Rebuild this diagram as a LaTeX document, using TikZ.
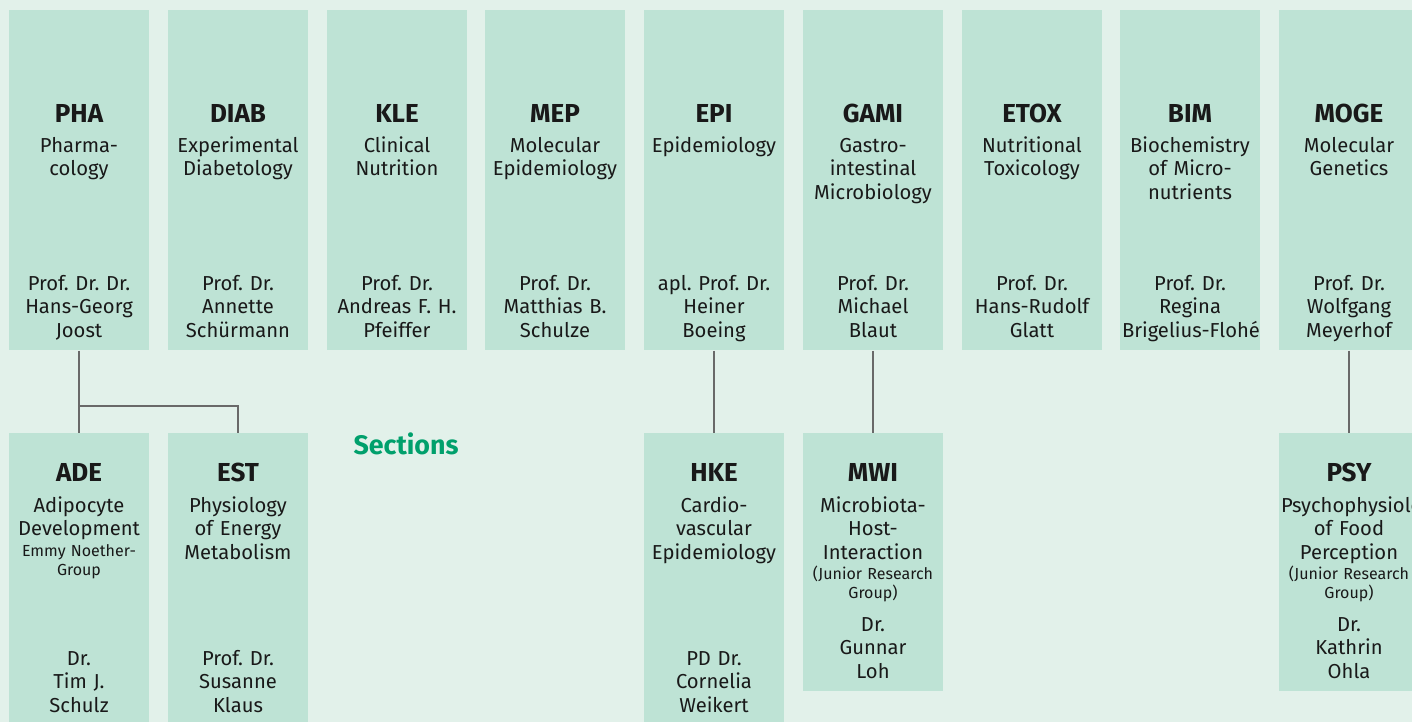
\documentclass[tikz,border=0pt]{standalone}
\usepackage{fontspec}
\setmainfont{Fira Sans}
\usepackage{tikz}
\definecolor{bggreen}{RGB}{226,241,234}
\definecolor{boxgreen}{RGB}{190,227,213}
\definecolor{secgreen}{RGB}{0,160,108}
\definecolor{linkgray}{RGB}{105,105,105}
\definecolor{txt}{RGB}{25,25,25}
\frenchspacing

\begin{document}
\begin{tikzpicture}[x=0.5pt,y=-0.5pt,
  unitbox/.style={rectangle,fill=boxgreen,inner sep=0pt,minimum width=70pt,anchor=north},
  abbrtext/.style={anchor=base,inner sep=0pt,text=txt,font=\bfseries\fontsize{13}{15}\selectfont},
  titletext/.style={anchor=base,inner sep=0pt,text=txt,text width=68pt,align=center,
    font=\fontsize{10.1}{11.75}\selectfont},
  smalltext/.style={titletext,font=\fontsize{8}{9.5}\selectfont},
  linkline/.style={draw=linkgray,line width=0.75pt}]
\useasboundingbox (0,0) rectangle (1412,722);
\fill[bggreen] (0,0) rectangle (1412,722);

\node[unitbox,minimum height=170pt] (pha) at (79,10) {};
\node[abbrtext] (pha-abbr) at (79,122) {PHA};
\node[titletext] (pha-title) at (79,152) {Pharma-\\cology};
\node[titletext] (pha-head) at (79,290) {Prof. Dr. Dr.\\Hans-Georg\\Joost};

\node[unitbox,minimum height=170pt] (diab) at (238,10) {};
\node[abbrtext] (diab-abbr) at (238,122) {DIAB};
\node[titletext] (diab-title) at (238,152) {Experimental\\Diabetology};
\node[titletext] (diab-head) at (238,290) {Prof. Dr.\\Annette\\Schürmann};

\node[unitbox,minimum height=170pt] (kle) at (397,10) {};
\node[abbrtext] (kle-abbr) at (397,122) {KLE};
\node[titletext] (kle-title) at (397,152) {Clinical\\Nutrition};
\node[titletext] (kle-head) at (397,290) {Prof. Dr.\\Andreas F. H.\\Pfeiffer};

\node[unitbox,minimum height=170pt] (mep) at (555,10) {};
\node[abbrtext] (mep-abbr) at (555,122) {MEP};
\node[titletext] (mep-title) at (555,152) {Molecular\\Epidemiology};
\node[titletext] (mep-head) at (555,290) {Prof. Dr.\\Matthias B.\\Schulze};

\node[unitbox,minimum height=170pt] (epi) at (714,10) {};
\node[abbrtext] (epi-abbr) at (714,122) {EPI};
\node[titletext] (epi-title) at (714,152) {Epidemiology};
\node[titletext] (epi-head) at (714,290) {apl. Prof. Dr.\\Heiner\\Boeing};

\node[unitbox,minimum height=170pt] (gami) at (873,10) {};
\node[abbrtext] (gami-abbr) at (873,122) {GAMI};
\node[titletext] (gami-title) at (873,152) {Gastro-\\intestinal\\Microbiology};
\node[titletext] (gami-head) at (873,290) {Prof. Dr.\\Michael\\Blaut};

\node[unitbox,minimum height=170pt] (etox) at (1032,10) {};
\node[abbrtext] (etox-abbr) at (1032,122) {ETOX};
\node[titletext] (etox-title) at (1032,152) {Nutritional\\Toxicology};
\node[titletext] (etox-head) at (1032,290) {Prof. Dr.\\Hans-Rudolf\\Glatt};

\node[unitbox,minimum height=170pt] (bim) at (1190,10) {};
\node[abbrtext] (bim-abbr) at (1190,122) {BIM};
\node[titletext] (bim-title) at (1190,152) {Biochemistry\\of Micro-\\nutrients};
\node[titletext] (bim-head) at (1190,290) {Prof. Dr.\\Regina\\\mbox{Brigelius-Flohé}};

\node[unitbox,minimum height=170pt] (moge) at (1349,10) {};
\node[abbrtext] (moge-abbr) at (1349,122) {MOGE};
\node[titletext] (moge-title) at (1349,152) {Molecular\\Genetics};
\node[titletext] (moge-head) at (1349,290) {Prof. Dr.\\Wolfgang\\Meyerhof};

\node[unitbox,minimum height=150pt] (ade) at (79,433) {};
\node[abbrtext] (ade-abbr) at (79,481) {ADE};
\node[titletext] (ade-title) at (79,512) {Adipocyte\\Development};
\node[smalltext] (ade-note) at (79,556) {Emmy Noether-\\Group};
\node[titletext] (ade-head) at (79,665) {Dr.\\Tim J.\\Schulz};

\node[unitbox,minimum height=150pt] (est) at (238,433) {};
\node[abbrtext] (est-abbr) at (238,481) {EST};
\node[titletext] (est-title) at (238,512) {Physiology\\of Energy\\Metabolism};
\node[titletext] (est-head) at (238,665) {Prof. Dr.\\Susanne\\Klaus};

\node[unitbox,minimum height=150pt] (hke) at (714,433) {};
\node[abbrtext] (hke-abbr) at (714,481) {HKE};
\node[titletext] (hke-title) at (714,512) {Cardio-\\vascular\\Epidemiology};
\node[titletext] (hke-head) at (714,665) {PD Dr.\\Cornelia\\Weikert};

\node[unitbox,minimum height=129pt] (mwi) at (873,433) {};
\node[abbrtext] (mwi-abbr) at (873,481) {MWI};
\node[titletext] (mwi-title) at (873,512) {Microbiota-\\Host-\\Interaction};
\node[smalltext] (mwi-note) at (873,579) {(Junior Research\\Group)};
\node[titletext] (mwi-head) at (873,631) {Dr.\\Gunnar\\Loh};

\node[unitbox,minimum height=129pt] (psy) at (1349,433) {};
\node[abbrtext] (psy-abbr) at (1349,481) {PSY};
\node[titletext] (psy-title) at (1349,512) {\mbox{Psychophysiology}\\of Food\\Perception};
\node[smalltext] (psy-note) at (1349,579) {(Junior Research\\Group)};
\node[titletext] (psy-head) at (1349,631) {Dr.\\Kathrin\\Ohla};

\node[font=\bfseries\fontsize{13.4}{16}\selectfont,text=secgreen,inner sep=0pt] (sections) at (406,444) {Sections};

\draw[linkline] (pha.south) -- (ade.north);
\coordinate (phafork) at (79,406);
\draw[linkline] (phafork) -| (est.north);
\draw[linkline] (epi.south) -- (hke.north);
\draw[linkline] (gami.south) -- (mwi.north);
\draw[linkline] (moge.south) -- (psy.north);
\end{tikzpicture}
\end{document}
